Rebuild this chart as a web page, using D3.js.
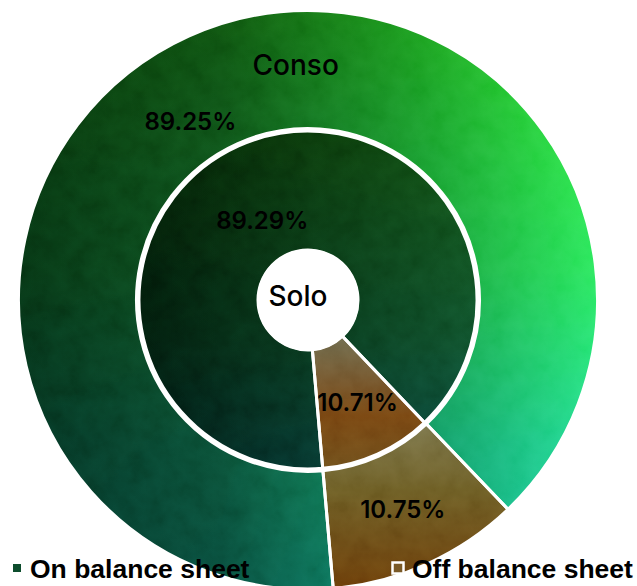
<!DOCTYPE html>
<html>
<head>
<meta charset="utf-8">
<script src="https://cdn.jsdelivr.net/npm/d3@7"></script>
<style>
  html, body { margin: 0; padding: 0; background: #ffffff; }
  svg { display: block; }
</style>
</head>
<body>
<div id="chart"></div>
<script>
// ---- data ----
const categories = ["On balance sheet", "Off balance sheet"];
const soloValues = [89.29, 10.71];   // inner pie
const consoValues = [89.25, 10.75];  // outer ring
const ringNames = ["Solo", "Conso"];

// ---- layout ----
const W = 637, H = 586;
const cx = 308, cy = 300;
const holeR = 51, innerR = 169, ringIn = 171.5, ringOut = 289.5;
const startDeg = 175;
const rad = d => d * Math.PI / 180;

const svg = d3.select("#chart").append("svg").attr("width", W).attr("height", H);
const defs = svg.append("defs");

function linGrad(id, attrs, stops) {
  const g = defs.append("linearGradient").attr("id", id);
  Object.entries(attrs).forEach(([k, v]) => g.attr(k, v));
  stops.forEach(([o, c]) => g.append("stop").attr("offset", o).attr("stop-color", c));
}
// outer ring (on balance) – luminance left→right, hue top→bottom
linGrad("outerBase", {gradientUnits: "userSpaceOnUse", x1: -288, y1: 0, x2: 289, y2: 0},
  [[0, "#05321a"], [0.35, "#0b5024"], [0.7, "#18a030"], [1, "#2aea52"]]);
linGrad("outerHue", {gradientUnits: "userSpaceOnUse", x1: 0, y1: -288, x2: 0, y2: 286},
  [[0, "#20c020"], [0.45, "#20d050"], [0.75, "#18c080"], [1, "#10b08a"]]);
// inner pie (on balance)
linGrad("innerBase", {gradientUnits: "userSpaceOnUse", x1: -172, y1: 0, x2: 172, y2: 0},
  [[0, "#021a0c"], [0.5, "#08361a"], [1, "#0e5028"]]);
linGrad("innerHue", {gradientUnits: "userSpaceOnUse", x1: 0, y1: -172, x2: 0, y2: 172},
  [[0, "#20c020"], [0.6, "#20c060"], [1, "#10b098"]]);
// off balance slices
linGrad("offInner", {x1: 0, y1: 0, x2: 0, y2: 1},
  [[0, "#6e6a4c"], [0.6, "#784410"], [1, "#6e4c18"]]);
linGrad("offOuter", {x1: 0, y1: 0, x2: 0, y2: 1},
  [[0, "#7a7448"], [0.4, "#6c5c22"], [1, "#6a3a08"]]);

// grain texture (subtle)
const grain = defs.append("filter").attr("id", "grain")
  .attr("filterUnits", "userSpaceOnUse")
  .attr("x", -300).attr("y", -300).attr("width", 600).attr("height", 600);
grain.append("feTurbulence").attr("type", "fractalNoise")
  .attr("baseFrequency", 0.05).attr("numOctaves", 4).attr("seed", 7).attr("result", "n");
grain.append("feColorMatrix").attr("in", "n").attr("type", "matrix")
  .attr("values", "1 0 0 0 0  1 0 0 0 0  1 0 0 0 0  0 0 0 0 0.22").attr("result", "g");
grain.append("feComposite").attr("in", "g").attr("in2", "SourceGraphic")
  .attr("operator", "in");

const pie = d3.pie().sort(null)
  .startAngle(rad(startDeg)).endAngle(rad(startDeg + 360));

const rings = [
  {name: ringNames[0], values: soloValues, r0: holeR - 1, r1: innerR,
   base: "url(#innerBase)", hue: "url(#innerHue)", off: "url(#offInner)",
   onLabel: {dAngle: -5.6, r: 92}, offLabel: {dAngle: -1.5, r: 114}},
  {name: ringNames[1], values: consoValues, r0: ringIn, r1: ringOut,
   base: "url(#outerBase)", hue: "url(#outerHue)", off: "url(#offOuter)",
   onLabel: {dAngle: -9, r: 214}, offLabel: {dAngle: 0, r: 230}}
];

const chart = svg.append("g").attr("transform", `translate(${cx},${cy})`);

rings.forEach(ring => {
  const arcs = pie(ring.values);
  const arc = d3.arc().innerRadius(ring.r0).outerRadius(ring.r1);
  const g = chart.append("g").style("isolation", "isolate");
  // on balance: base + hue blend
  g.append("path").attr("d", arc(arcs[0])).attr("fill", ring.base);
  g.append("path").attr("d", arc(arcs[0])).attr("fill", ring.hue)
    .style("mix-blend-mode", "hue");
  // off balance
  g.append("path").attr("d", arc(arcs[1])).attr("fill", ring.off);
  // grain overlay
  g.selectAll("path.grain").data(arcs).join("path").attr("class", "grain")
    .attr("d", arc).attr("fill", "#808080").attr("filter", "url(#grain)")
    .style("mix-blend-mode", "soft-light");
  // white borders
  chart.append("g").selectAll("path").data(arcs).join("path")
    .attr("d", arc).attr("fill", "none").attr("stroke", "#ffffff")
    .attr("stroke-width", 3).attr("stroke-linejoin", "round");
  ring.arcs = arcs; ring.arc = arc;
});

// center hole
chart.append("circle").attr("r", holeR).attr("fill", "#ffffff");

// value labels
const fmt = v => v.toFixed(2) + "%";
const labelG = chart.append("g")
  .attr("font-family", "Inter, 'Noto Sans', sans-serif")
  .attr("font-size", 24).attr("font-weight", 600)
  .attr("fill", "#000").attr("text-anchor", "middle");

rings.forEach(ring => {
  ring.arcs.forEach((a, i) => {
    const spec = i === 0 ? ring.onLabel : ring.offLabel;
    const mid = (a.startAngle + a.endAngle) / 2 + rad(spec.dAngle);
    const pos = d3.pointRadial(mid, spec.r);
    labelG.append("text").attr("x", pos[0]).attr("y", pos[1]).attr("dy", "0.36em")
      .text(fmt(a.data));
  });
});

// ring names
const consoPos = d3.pointRadial(rad(-3), 235);
labelG.append("text").attr("x", consoPos[0]).attr("y", consoPos[1]).attr("dy", "0.36em")
  .attr("font-size", 28).attr("font-weight", 500).text(ringNames[1]);
labelG.append("text").attr("x", -10).attr("y", -4).attr("dy", "0.36em")
  .attr("font-size", 28).attr("font-weight", 500).text(ringNames[0]);

// legend
const legend = svg.append("g")
  .attr("font-family", "'Liberation Sans', Arial, sans-serif")
  .attr("font-weight", "bold").attr("font-size", 26.5).attr("fill", "#000");
const legendX = [30, 412];
const legendSwatch = ["#0d4d2d", "#7a5a28"];
categories.forEach((c, i) => {
  const g = legend.append("g").attr("transform", `translate(${legendX[i]},578)`);
  if (i === 0) {
    g.append("rect").attr("x", -17).attr("y", -14).attr("width", 8).attr("height", 8)
      .attr("fill", legendSwatch[i]);
  } else {
    g.append("rect").attr("x", -19.5).attr("y", -15.5).attr("width", 11).attr("height", 11)
      .attr("fill", legendSwatch[i]).attr("stroke", "#ffffff").attr("stroke-width", 2.5);
  }
  g.append("text").attr("x", 0).attr("y", 0).text(c);
});
</script>
</body>
</html>
